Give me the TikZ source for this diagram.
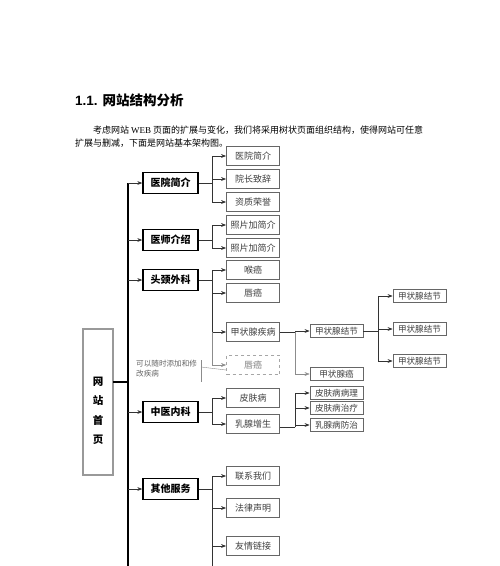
\documentclass[tikz,border=0pt]{standalone}
\usepackage{fontspec}
\setmainfont{Liberation Serif}
\newfontfamily\cjk{Noto Sans CJK SC}
\newfontfamily\hd{Liberation Sans}
\usetikzlibrary{arrows.meta}
\begin{document}
\begin{tikzpicture}[x=1pt,y=-1pt,
 lone/.style={draw=black, line width=1.4pt, minimum width=55pt, minimum height=21pt, inner sep=0pt, font=\cjk\bfseries\fontsize{10}{12}\selectfont},
 ltwo/.style={draw=black!60, line width=0.8pt, minimum width=53pt, minimum height=19.5pt, inner sep=0pt, text=black!75, font=\cjk\fontsize{9}{10}\selectfont},
 lthree/.style={ltwo, minimum height=12.5pt, font=\cjk\fontsize{8.6}{10}\selectfont},
 ldash/.style={ltwo, draw=black!35, dashed, text=black!50},
 arr/.style={-{Stealth[length=5pt,width=3.8pt]}, line width=0.6pt, draw=black!80},
 thinarr/.style={arr, line width=0.4pt, draw=black!45},
 trunk/.style={line width=1.2pt},
 ln/.style={line width=0.6pt, draw=black!80},
 thinln/.style={line width=0.4pt, draw=black!45},
]
\useasboundingbox[fill=white] (0,0) rectangle (500,566);

% title and paragraph
\node[anchor=west, inner sep=0pt] (title) at (75,100) {\hd\bfseries\fontsize{13.5}{16}\selectfont 1.1.\hspace{5pt}{\cjk\bfseries 网站结构分析}};
\node[anchor=west, inner sep=0pt] (para1) at (93,130) {\cjk\fontsize{9}{11}\selectfont 考虑网站 {\rmfamily WEB} 页面的扩展与变化，我们将采用树状页面组织结构，使得网站可任意};
\node[anchor=west, inner sep=0pt] (para2) at (75,143) {\cjk\fontsize{9}{11}\selectfont 扩展与删减，下面是网站基本架构图。};

% root
\node[draw=black!70, line width=0.6pt, double=black!40, double distance=1.4pt, minimum width=30pt, minimum height=146pt, inner sep=0pt] (root) at (98,402) {};
\node[align=center, inner sep=0pt, font=\cjk\bfseries\fontsize{10.5}{19.5}\selectfont] (roottext) at (98,411) {网\\站\\首\\页};

% level 1
\node[lone] (A1) at (170.5,183) {医院简介};
\node[lone] (A2) at (170.5,240) {医师介绍};
\node[lone] (A3) at (170.5,280) {头颈外科};
\node[lone] (A4) at (170.5,412) {中医内科};
\node[lone] (A5) at (170.5,489) {其他服务};

% level 2
\node[ltwo] (B1) at (253,156) {医院简介};
\node[ltwo] (B2) at (253,179) {院长致辞};
\node[ltwo] (B3) at (253,202) {资质荣誉};
\node[ltwo] (B4) at (253,225) {照片加简介};
\node[ltwo] (B5) at (253,248) {照片加简介};
\node[ltwo] (B6) at (253,270) {喉癌};
\node[ltwo] (B7) at (253,293) {唇癌};
\node[ltwo] (B8) at (253,332) {甲状腺疾病};
\node[ldash] (B9) at (253,365) {唇癌};
\node[ltwo] (B10) at (253,398) {皮肤病};
\node[ltwo] (B11) at (253,424) {乳腺增生};
\node[ltwo] (B12) at (253,476) {联系我们};
\node[ltwo] (B13) at (253,508) {法律声明};
\node[ltwo] (B14) at (253,546) {友情链接};

% level 3
\node[lthree] (C1) at (336.5,331) {甲状腺结节};
\node[lthree] (C2) at (336.5,374) {甲状腺癌};
\node[lthree] (C3) at (336.5,393) {皮肤病病理};
\node[lthree] (C4) at (336.5,408) {皮肤病治疗};
\node[lthree] (C5) at (336.5,425) {乳腺病防治};

% level 4
\node[lthree] (D1) at (419.5,296) {甲状腺结节};
\node[lthree] (D2) at (419.5,329) {甲状腺结节};
\node[lthree] (D3) at (419.5,361) {甲状腺结节};

% annotation
\node[anchor=north west, align=left, inner sep=0pt, text=black!60, font=\cjk\fontsize{7.6}{10}\selectfont] (note) at (136,359.5) {可以随时添加和修\\改疾病};
\coordinate (k1) at (201,360);
\coordinate (k2) at (201,382);
\coordinate (k3) at (201,367);
\coordinate (k4) at (226,370);
\draw[thinln] (k1) -- (k2);
\draw[thinln] (k3) -- (k4);

% trunk
\coordinate (tr) at (128,382);
\coordinate (tb) at (128,566);
\draw[trunk] (root.east |- tr) -- (tr);
\draw[trunk] (A1.west -| tr) -- (tb);
\foreach \n in {A1,A2,A3,A4,A5} \draw[arr] (\n.west -| tr) -- (\n.west);

% level-2 branches
\coordinate (b1) at (212,183);
\coordinate (b2) at (212,240);
\coordinate (b3) at (212,280);
\coordinate (b4) at (212,412);
\coordinate (b5) at (212,489);
\coordinate (ob) at (212,566);
\draw[ln] (A1.east) -- (b1);
\draw[ln] (A2.east) -- (b2);
\draw[ln] (A3.east) -- (b3);
\draw[ln] (A4.east) -- (b4);
\draw[ln] (A5.east) -- (b5);
\foreach \n in {B1,B2,B3} \draw[arr] (b1) |- (\n.west);
\foreach \n in {B4,B5} \draw[arr] (b2) |- (\n.west);
\foreach \n in {B6,B7,B8} \draw[arr] (b3) |- (\n.west);
\draw[thinarr] (B8.west -| b3) |- (B9.west);
\foreach \n in {B10,B11} \draw[arr] (b4) |- (\n.west);
\foreach \n in {B12,B13,B14} \draw[arr] (b5) |- (\n.west);
\draw[ln] (b5) -- (ob);

% level-3 branches
\coordinate (c1) at (295,332);
\coordinate (c2) at (295,427);
\draw[ln] (B8.east) -- (c1);
\draw[arr] (c1) |- (C1.west);
\draw[thinarr] (c1) |- (C2.west);
\draw[ln] (B11.east |- c2) -- (c2);
\foreach \n in {C3,C4,C5} \draw[arr] (c2) |- (\n.west);

% level-4 branches
\coordinate (d1) at (378,331);
\draw[ln] (C1.east) -- (d1);
\foreach \n in {D1,D2,D3} \draw[arr] (d1) |- (\n.west);
\end{tikzpicture}
\end{document}
